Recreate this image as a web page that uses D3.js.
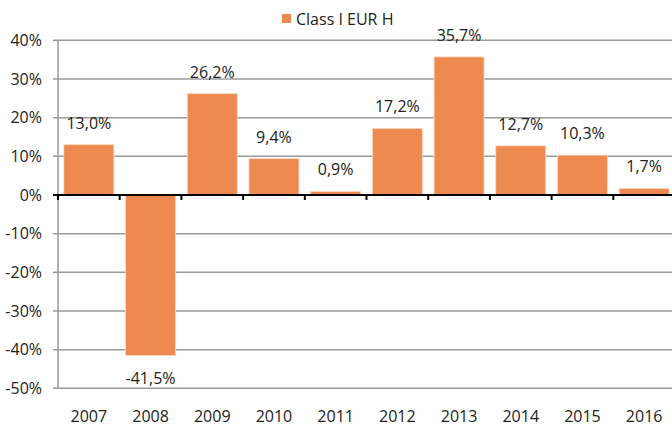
<!DOCTYPE html>
<html><head><meta charset="utf-8">
<script src="https://cdn.jsdelivr.net/npm/d3@7/dist/d3.min.js"></script>
<style>body{margin:0;background:#fff}svg{display:block}text{font-family:"Open Sans",sans-serif;fill:#222}</style>
</head><body>
<svg id="c" width="672" height="427"></svg>
<script>
const categories = ["2007","2008","2009","2010","2011","2012","2013","2014","2015","2016"];
const values = [13.0,-41.5,26.2,9.4,0.9,17.2,35.7,12.7,10.3,1.7];
const yTicks = [40,30,20,10,0,-10,-20,-30,-40,-50];
const seriesName = "Class I EUR H";
const color = "#EE8A4F";

const svg = d3.select("#c");
const L = 58, R = 675, T = 40.3, B = 388.3;
const x = d3.scaleBand().domain(categories).range([L, R]).paddingInner(0.19).paddingOuter(0.095);
const y = d3.scaleLinear().domain([-50, 40]).range([B, T]);
const fmt = v => d3.format(".1f")(v).replace(".", ",").replace("\u2212", "-") + "%";
const fs = "16px";

// gridlines
svg.append("g").selectAll("line").data(yTicks.filter(t => t !== 0)).join("line")
  .attr("x1", L - 5).attr("x2", 672).attr("y1", d => y(d)).attr("y2", d => y(d))
  .attr("stroke", "#9a9a9a").attr("stroke-width", 1.5);
// y axis line
svg.append("line").attr("x1", L).attr("x2", L).attr("y1", T).attr("y2", B)
  .attr("stroke", "#9a9a9a").attr("stroke-width", 1.5);
// y labels
svg.append("g").selectAll("text").data(yTicks).join("text")
  .attr("x", 42).attr("y", d => y(d)).attr("dy", "0.36em").attr("text-anchor", "end")
  .style("font-size", fs).text(d => d + "%");

// bars
svg.append("g").selectAll("rect").data(values).join("rect")
  .attr("x", (d, i) => x(categories[i])).attr("width", x.bandwidth())
  .attr("y", d => y(Math.max(0, d))).attr("height", d => Math.abs(y(d) - y(0)))
  .attr("fill", color).attr("stroke", "#fbd9c4").attr("stroke-width", 0.8);

// zero line + ticks
svg.append("line").attr("x1", L - 5).attr("x2", 672).attr("y1", y(0)).attr("y2", y(0))
  .attr("stroke", "#000").attr("stroke-width", 2);
const step = x.step();
svg.append("g").selectAll("line").data(d3.range(categories.length + 1)).join("line")
  .attr("x1", i => L + i * step).attr("x2", i => L + i * step)
  .attr("y1", y(0)).attr("y2", y(0) + 5).attr("stroke", "#000").attr("stroke-width", 2);

// value labels
svg.append("g").selectAll("text").data(values).join("text")
  .attr("x", (d, i) => x(categories[i]) + x.bandwidth() / 2)
  .attr("y", d => d >= 0 ? y(d) - 16 : y(d) + 29)
  .attr("text-anchor", "middle").style("font-size", fs).text(d => fmt(d));

// x labels
svg.append("g").selectAll("text").data(categories).join("text")
  .attr("x", d => x(d) + x.bandwidth() / 2).attr("y", 422)
  .attr("text-anchor", "middle").style("font-size", fs).text(d => d);

// legend
svg.append("rect").attr("x", 282).attr("y", 14).attr("width", 9).attr("height", 9).attr("fill", color);
svg.append("text").attr("x", 296).attr("y", 24.5).style("font-size", fs).text(seriesName);
</script>
</body></html>
